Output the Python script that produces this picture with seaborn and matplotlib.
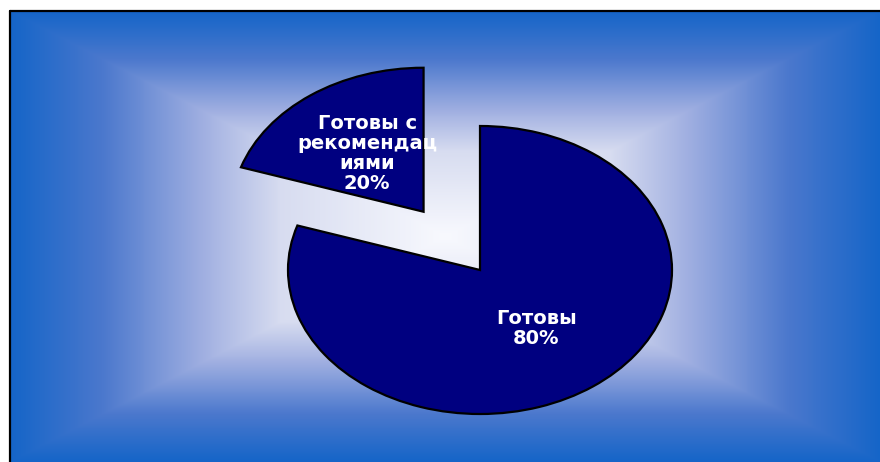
import numpy as np
import matplotlib
matplotlib.use("Agg")
import matplotlib.pyplot as plt
from matplotlib.colors import LinearSegmentedColormap
from matplotlib.lines import Line2D
import seaborn as sns

# данные
labels = ["Готовы с\nрекомендац\nиями", "Готовы"]
values = [20, 80]
explode = [0.5, 0]

sns.set_style("white")
plt.rcParams['font.family'] = ['DejaVu Sans']

fig = plt.figure(figsize=(8.8, 4.62), dpi=100)
fig.patch.set_facecolor("white")
fig.patch.set_edgecolor("none")
fig.patch.set_linewidth(0)

# фон: прямоугольный градиент от белого центра к синим краям
ax_bg = fig.add_axes([10 / 880, 0, 870 / 880, 451 / 462])
n = 500
xx, yy = np.meshgrid(np.linspace(-1, 1, n), np.linspace(-1, 1, n))
t = np.maximum(np.abs(xx), np.abs(yy))
stops = [(0.0, "#F8F9FE"), (0.38, "#D7DCF0"), (0.56, "#A0AFE1"),
         (0.79, "#4B78CD"), (1.0, "#1565C8")]
cmap = LinearSegmentedColormap.from_list("bg", stops)
ax_bg.imshow(t, cmap=cmap, aspect="auto", extent=(0, 1, 0, 1),
             interpolation="bilinear", vmin=0, vmax=1)
ax_bg.set_xticks([])
ax_bg.set_yticks([])
for side in ax_bg.spines:
    ax_bg.spines[side].set_visible(False)

# рамка только слева и сверху
fig.add_artist(Line2D([10 / 880, 10 / 880], [0, 451 / 462], color="black",
                      linewidth=1.6, transform=fig.transFigure))
fig.add_artist(Line2D([10 / 880, 1], [451 / 462, 451 / 462], color="black",
                      linewidth=1.6, transform=fig.transFigure))

# круговая диаграмма (сплюснутая по вертикали)
ax = fig.add_axes([0, 0, 1, 1])
ax.patch.set_alpha(0)
lbl = iter(labels)
wedges, texts, autotexts = ax.pie(
    values,
    explode=explode,
    startangle=90,
    colors=["#000080", "#000080"],
    autopct=lambda p: f"{next(lbl)}\n{p:.0f}%",
    pctdistance=0.5,
    wedgeprops=dict(edgecolor="black", linewidth=1.6),
    textprops=dict(color="white", fontsize=14, fontweight="bold",
                   linespacing=1.08, ha="center", va="center"),
)
ax.set_aspect("auto")
ax.set_xlim(-480 / 192, 400 / 192)
ax.set_ylim(-192 / 144, 270 / 144)
ax.axis("off")

fig.savefig("out.png", dpi=100)
